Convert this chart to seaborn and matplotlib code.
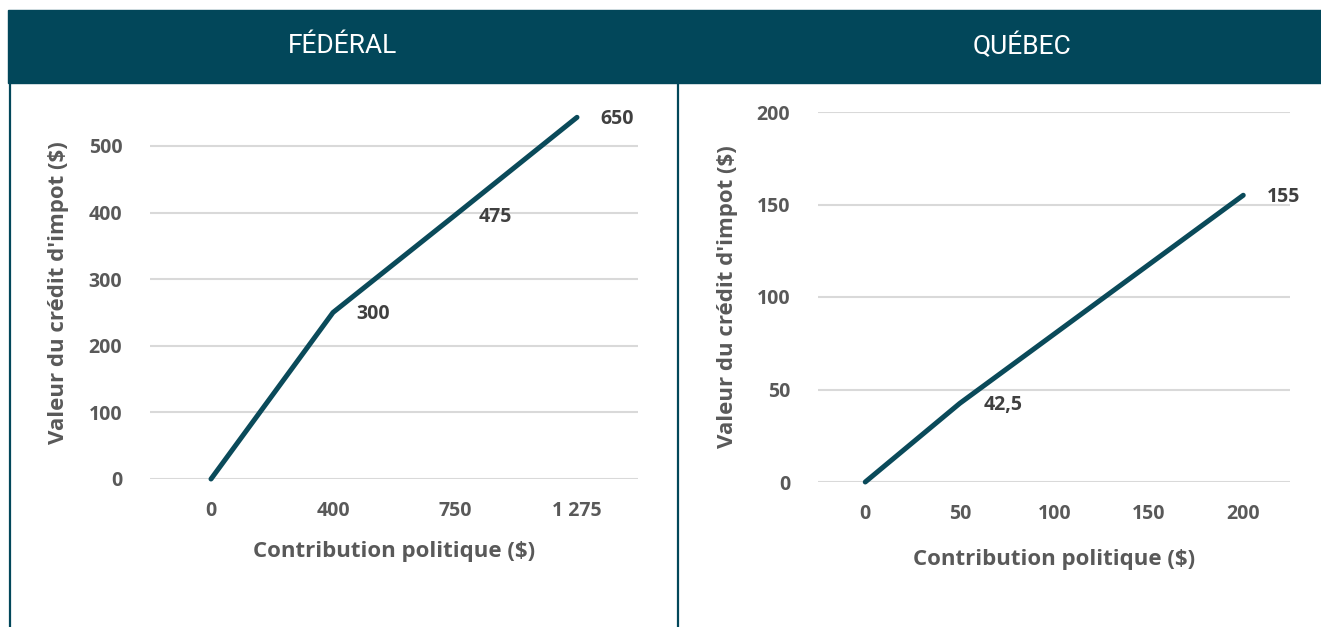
import pandas as pd
import matplotlib.pyplot as plt
import seaborn as sns
from matplotlib.patches import Rectangle
from matplotlib.lines import Line2D

sns.set_style('white')
plt.rcParams['font.family'] = ['Open Sans', 'DejaVu Sans']

# données
fed_x = ['0', '400', '750', '1 275']
fed_y = [0, 250, 396, 543]
fed_labels = ['', '300', '475', '650']

qc_x = ['0', '50', '100', '150', '200']
qc_y = [0, 42.5, 80, 117.5, 155]
qc_labels = ['', '42,5', '', '', '155']

teal = '#02475A'
line_col = '#0A4A5A'
gray = '#595959'

fig = plt.figure(figsize=(13.21, 6.27), dpi=100)
W, H = 1321, 627

# bandeau d'en-tête
fig.patches.append(Rectangle((8 / W, 1 - 83 / H), 1 - 8 / W, 73 / H,
                             transform=fig.transFigure, color=teal, zorder=0))
fig.text(343 / W, 1 - 46 / H, 'FÉDÉRAL', color='white', fontsize=19,
         ha='center', va='center', family=['Roboto', 'DejaVu Sans'])
fig.text(1022 / W, 1 - 46 / H, 'QUÉBEC', color='white', fontsize=19,
         ha='center', va='center', family=['Roboto', 'DejaVu Sans'])
# bordures verticales
for xp in [9.5, 677.5]:
    fig.lines.append(Line2D([xp / W, xp / W], [0, 1 - 83 / H], transform=fig.transFigure,
                            color=teal, lw=1.6))


def panel(rect, xs, ys, labels, ymax, yticks, xlabel_y, ylabel_x):
    ax = fig.add_axes(rect)
    df = pd.DataFrame({'x': xs, 'y': ys})
    sns.lineplot(data=df, x='x', y='y', ax=ax, color=line_col, lw=3.6, sort=False,
                 clip_on=False, solid_capstyle='round', solid_joinstyle='round')
    ax.set_xlim(-0.5, len(xs) - 0.5)
    ax.set_ylim(0, ymax)
    ax.set_yticks(yticks)
    ax.grid(axis='y', color='#D9D9D9', lw=1.5)
    ax.set_axisbelow(True)
    for s in ax.spines.values():
        s.set_visible(False)
    ax.tick_params(axis='both', length=0, labelsize=14, labelcolor=gray)
    ax.tick_params(axis='y', pad=20)
    ax.tick_params(axis='x', pad=16)
    for t in ax.get_xticklabels() + ax.get_yticklabels():
        t.set_fontweight('bold')
    ax.set_xlabel('Contribution politique ($)', fontsize=16, fontweight='bold', color=gray)
    ax.set_ylabel("Valeur du crédit d'impot ($)", fontsize=16, fontweight='bold', color=gray)
    ax.xaxis.set_label_coords(0.5, xlabel_y)
    ax.yaxis.set_label_coords(ylabel_x, 0.5)
    for i, (v, lab) in enumerate(zip(ys, labels)):
        if lab:
            ax.annotate(lab, (i, v), xytext=(17, -1), textcoords='offset points',
                        ha='left', va='center', fontsize=14, fontweight='bold',
                        color='#404040')
    return ax


panel([150 / W, 1 - 479 / H, 488 / W, (479 - 106) / H], fed_x, fed_y, fed_labels,
      560, [0, 100, 200, 300, 400, 500], -0.165, -0.165)
panel([818 / W, 1 - 482 / H, 472.5 / W, (482 - 112) / H], qc_x, qc_y, qc_labels,
      200, [0, 50, 100, 150, 200], -0.18, -0.17)

fig.savefig('out.png', dpi=100)
